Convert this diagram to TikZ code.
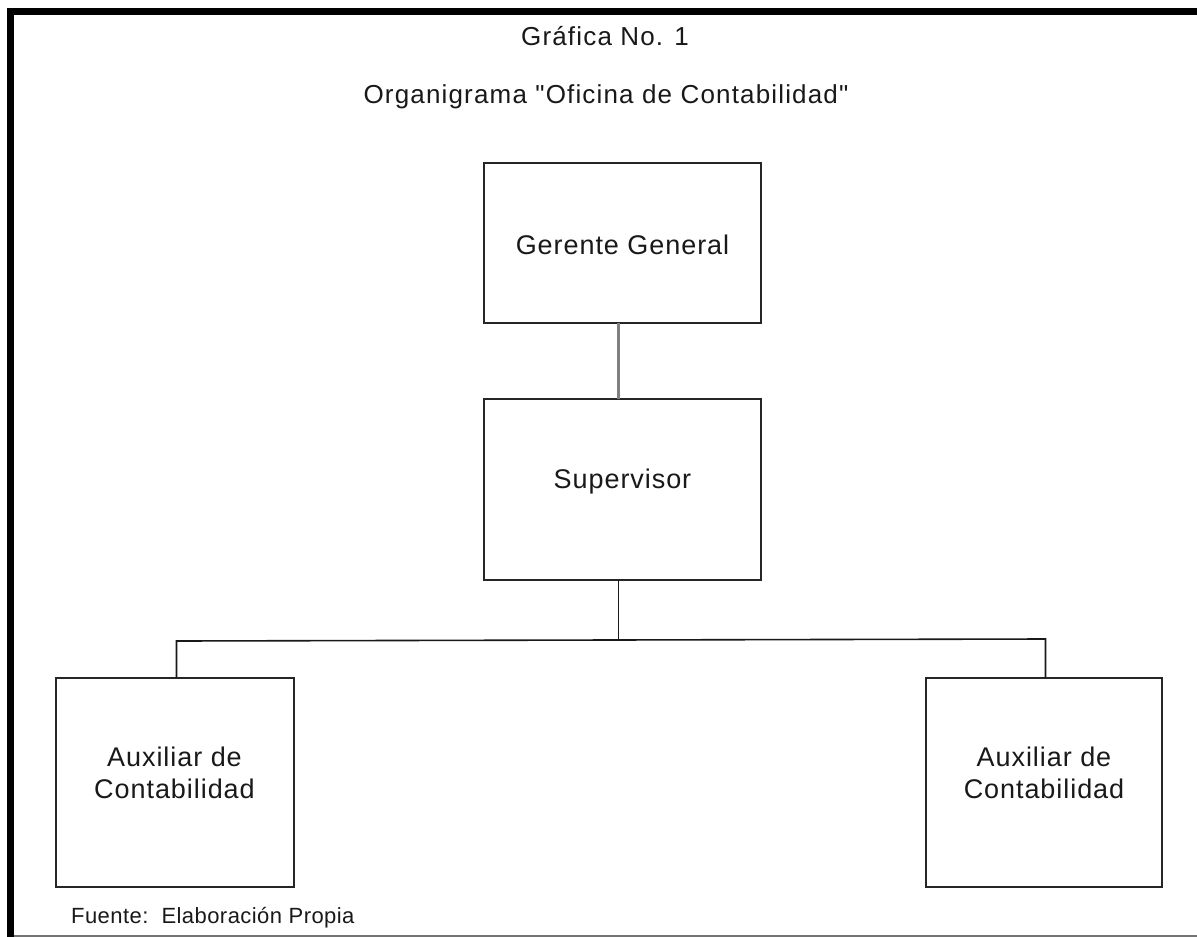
\documentclass[tikz,border=0pt]{standalone}
\usepackage{fontspec}
\setmainfont{Liberation Sans}[Ligatures=TeXOff]
\newfontfamily\titlefont{Liberation Sans}[Ligatures=TeXOff, LetterSpace=4.5]
\newfontfamily\boxfont{Liberation Sans}[Ligatures=TeXOff, LetterSpace=3.5]
\newfontfamily\notefont{Liberation Sans}[Ligatures=TeXOff, LetterSpace=2]
\usetikzlibrary{calc}
\begin{document}
\begin{tikzpicture}[x=1pt,y=-1pt,
  orgbox/.style={draw=black!85, line width=2pt, rectangle, inner sep=0pt, outer sep=0pt, fill=white},
  boxtext/.style={font=\boxfont\fontsize{27}{32}\selectfont, text=black!90, align=center, inner sep=0pt},
  titletext/.style={font=\titlefont\fontsize{26}{30}\selectfont, text=black!90, inner sep=0pt, anchor=base},
  notetext/.style={font=\notefont\fontsize{22}{26}\selectfont, text=black!90, inner sep=0pt, anchor=base west},
  link/.style={draw=black!90, line width=1.6pt},
  greylink/.style={draw=black!50, line width=3pt}]
  % page frame
  \useasboundingbox (0,0) rectangle (1197,937);
  \fill[white] (0,0) rectangle (1197,937);
  \draw[line width=7pt, miter limit=10] (10.5,937) -- (10.5,11.5) -- (1197,11.5);
  \draw[black!55, line width=1.3pt] (14,936) -- (1197,936);

  % titles
  \node[titletext] (t1) at (605,45) {Gráfica No. 1};
  \node[titletext] (t2) at (606,103) {Organigrama "Oficina de Contabilidad"};

  % boxes
  \node[orgbox, minimum width=277, minimum height=160] (gg) at (622.5,243) {};
  \node[orgbox, minimum width=277, minimum height=181] (sup) at (622.5,489.5) {};
  \node[orgbox, minimum width=238, minimum height=209] (auxL) at (174.5,782) {};
  \node[orgbox, minimum width=236, minimum height=209] (auxR) at (1044,782) {};

  % box labels
  \node[boxtext, anchor=base] (gg-t) at ($(gg.center)+(0,11)$) {Gerente General};
  \node[boxtext, anchor=base] (sup-t) at ($(sup.center)+(0,-1.5)$) {Supervisor};
  \node[boxtext] (auxL-t) at ($(auxL.center)+(0,-9)$) {Auxiliar de\\Contabilidad};
  \node[boxtext] (auxR-t) at ($(auxR.center)+(0,-9)$) {Auxiliar de\\Contabilidad};

  % connectors
  \coordinate (trunk) at (618.5,0);
  \coordinate (busL) at (176.5,641);
  \coordinate (busR) at (1045.5,639);
  \coordinate (busM) at (618.5,640);
  \draw[greylink] (gg.south -| trunk) -- (sup.north -| trunk);
  \draw[link] (sup.south -| trunk) -- (busM);
  \draw[link] (auxL.north -| busL) -- (busL) -- (busR) -- (auxR.north -| busR);

  % source note
  \node[notetext] (src) at (71,923) {Fuente:\ \ Elaboración Propia};
\end{tikzpicture}
\end{document}
